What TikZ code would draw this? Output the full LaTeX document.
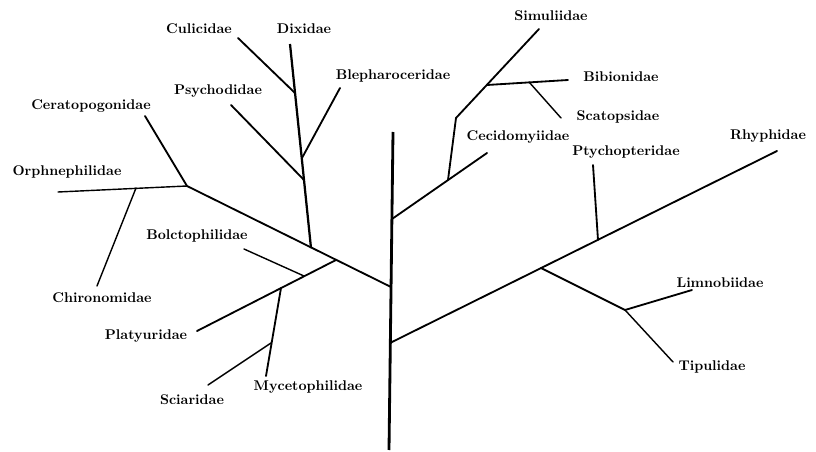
\documentclass[tikz,border=0pt]{standalone}
\begin{document}
\begin{tikzpicture}[x=0.025cm, y=-0.025cm,
		stem/.style={line width=1.3pt, line cap=round},
		twig/.style={line width=1pt, line cap=round},
		family/.style={font=\bfseries, inner sep=0pt}]
		\useasboundingbox (0,0) rectangle (816,452);
		% branch points and tips
		\foreach \n/\x/\y in {tt/393/132, tb/389/450, jU/392/219, jL/391/287, jR/390/343,
			cer/187/186, cee/145/116, ore/58/192, chj/136/188, che/97/286,
			dxb/311/248, dxt/290/44, cuj/295/93, cue/238/38, blj/302/158, ble/340/88, psj/304/180, pse/231/105,
			mgj/336/260, plt/197/331, boj/304/276, boe/244/249, myj/281/288, mye/266/376, scj/271/343, sce/208/385,
			cce/487/153, ccj/448/180, smj/456/118, sme/539/29, bij/487/85, bie/568/80, sxj/529/82, sxe/561/118,
			rhe/777/151, ptj/598/240, pte/593/165, tij/541/268, tin/625/310, lie/692/290, tie/673/362}
			\coordinate (\n) at (\x,\y);
		
		\draw[line width=2pt] (tt) -- (tb);
		\draw[stem] (jL) -- (cer) -- (cee);
		\draw[twig] (cer) -- (ore);
		\draw[twig] (chj) -- (che);
		\draw[line width=1.6pt] (dxb) -- (dxt);
		\draw[stem] (cuj) -- (cue);
		\draw[stem] (blj) -- (ble);
		\draw[stem] (psj) -- (pse);
		\draw[stem] (mgj) -- (plt);
		\draw[twig] (boj) -- (boe);
		\draw[stem] (myj) -- (mye);
		\draw[twig] (scj) -- (sce);
		\draw[stem] (jU) -- (cce);
		\draw[stem] (ccj) -- (smj) -- (sme);
		\draw[stem] (bij) -- (bie);
		\draw[twig] (sxj) -- (sxe);
		\draw[stem] (jR) -- (rhe);
		\draw[stem] (ptj) -- (pte);
		\draw[stem] (tij) -- (tin) -- (lie);
		\draw[twig] (tin) -- (tie);
		
		% family names
		\foreach \n/\x/\y/\t in {lcul/199/29/Culicidae, ldix/304/29/Dixidae, lble/393/76/Blepharoceridae,
			lpsy/218/91/Psychodidae, lcer/91/106/Ceratopogonidae, lorp/67/172/Orphnephilidae,
			lchi/102/298/Chironomidae, lbol/197/236/Bolctophilidae, lpla/146/336/Platyuridae,
			lsci/192/400/Sciaridae, lmyc/308/387/Mycetophilidae, lsim/551/16/Simuliidae,
			lbib/621/77/Bibionidae, lsca/618/117/Scatopsidae, lcec/518/137/Cecidomyiidae,
			lpty/626/152/Ptychopteridae, lrhy/768/136/Rhyphidae, llim/720/283/Limnobiidae,
			ltip/712/367/Tipulidae}
			\node[family] (\n) at (\x,\y) {\t};
	\end{tikzpicture}
\end{document}
